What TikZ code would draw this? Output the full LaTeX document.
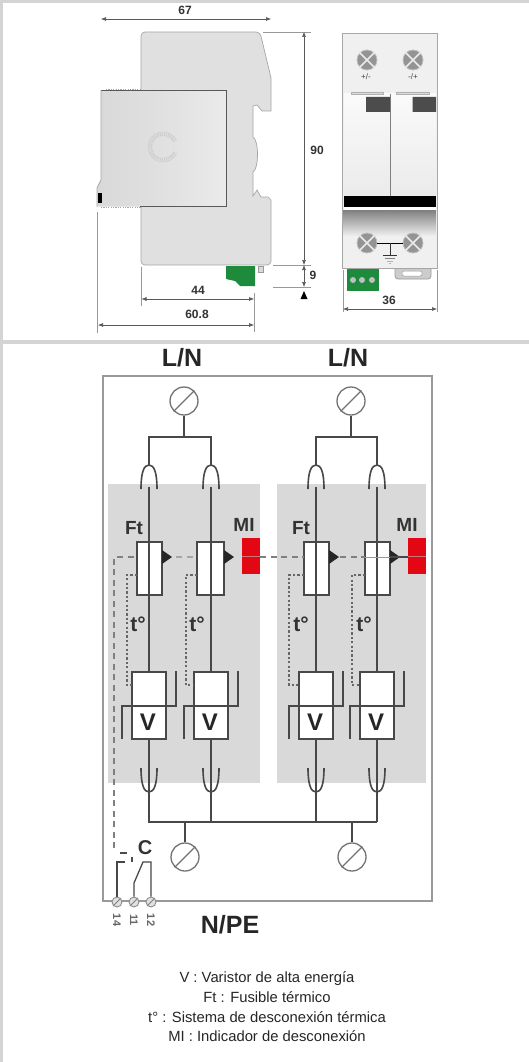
\documentclass[tikz,border=0pt]{standalone}
\usepackage{fontspec}
\setmainfont{Liberation Sans}
\usetikzlibrary{arrows.meta}
\definecolor{framegray}{HTML}{D4D4D4}
\definecolor{panelgray}{HTML}{D9D9D9}
\definecolor{bodygray}{HTML}{E0E0E0}
\definecolor{wiregray}{HTML}{484848}
\definecolor{migred}{HTML}{E30613}
\definecolor{termgreen}{HTML}{1E8A3C}
\tikzset{
  dimline/.style={draw=black!65,line width=.6pt,{Latex[length=5pt,width=4pt]}-{Latex[length=5pt,width=4pt]}},
  extline/.style={draw=black!40,line width=.6pt},
  dimtext/.style={font=\bfseries\fontsize{12}{14}\selectfont,text=black!80,inner sep=0pt},
  wire/.style={draw=wiregray,line width=1.6pt},
  dashwire/.style={draw=black!50,line width=2.4pt,dash pattern=on 6pt off 4.5pt},
  dotwire/.style={draw=black!60,line width=2.2pt,dash pattern=on 2.2pt off 2.2pt},
  terminal/.style={circle,draw=black!55,fill=white,line width=1.3pt,minimum size=28pt,inner sep=0pt},
  smallterm/.style={circle,draw=black!45,fill=black!12,line width=.9pt,minimum size=10pt,inner sep=0pt},
  screw/.style={circle,draw=black!25,fill=black!42,line width=.8pt,minimum size=20pt,inner sep=0pt},
  boxwhite/.style={draw=wiregray,fill=white,line width=1.4pt},
  bigtext/.style={font=\bfseries\fontsize{25}{27}\selectfont,text=black!85,inner sep=0pt},
  midtext/.style={font=\bfseries\fontsize{19}{21}\selectfont,text=black!80,inner sep=0pt},
  legend/.style={font=\fontsize{14.8}{19.7}\selectfont,text=black!85,align=center,inner sep=0pt},
}
\begin{document}
\begin{tikzpicture}[x=1pt,y=-1pt]
\useasboundingbox (0,0) rectangle (529,1062);
\fill[white] (0,0) rectangle (529,1062);
% frame
\fill[framegray] (0,0) rectangle (529,3);
\fill[framegray] (0,0) rectangle (3,1062);
\fill[framegray] (0,340) rectangle (529,344);
% side view
\draw[fill=bodygray,draw=black!35,line width=.7pt,rounded corners=4pt]
  (141,32) -- (260,32) [sharp corners] -- (271,78) -- (271,111) -- (262,111) -- (257,105) -- (253,106) -- (253,137)
  .. controls (259,140) and (259,169) .. (253,172) -- (253,196) -- (257,190) -- (261,197) -- (268,197) -- (271,200)
  [rounded corners=4pt] -- (271,265) -- (141,265) -- cycle;
\shade[left color=black!15,right color=black!8,middle color=black!12] (101,90.5) -- (226.5,90.5) -- (226.5,206.5) -- (97,206.5) -- (97,188) -- (101,180) -- cycle;
\draw[black!65,line width=.9pt] (101,90.5) -- (226.5,90.5) -- (226.5,206.5) -- (140,206.5);
\draw[black!35,line width=.7pt] (101,90.5) -- (101,180) -- (97,188) -- (97,206.5);
\draw[black!35,line width=1pt,dash pattern=on 1.2pt off 1.2pt] (106,89.5) -- (141,89.5) (101,207.5) -- (141,207.5);
\fill[black] (97.5,193) rectangle (101.5,203);
\draw[black!20,line width=3pt,dash pattern=on 1pt off 1pt] (163,147) ++(25:12.5) arc (25:335:12.5);
\draw[black!20,line width=.6pt] (163,147) ++(25:15) arc (25:335:15);
% green plug
\fill[termgreen] (226,266) -- (255,266) -- (255,286) -- (240,286) -- (235,281) -- (226,279) -- cycle;
\draw[black!40,fill=black!15,line width=.5pt] (258.5,266) rectangle (263,272);
% dimensions of side view
\node[dimtext] (widthtxt) at (185,10) {67};
\coordinate (wa) at (101,19); \coordinate (wb) at (271,19);
\draw[dimline] (wa) -- (wb);
\draw[extline] (263,32) -- (311,32) (273,265) -- (311,265) (273,287) -- (311,287);
\coordinate (ha) at (304,32); \coordinate (hb) at (304,265); \coordinate (hc) at (304,287);
\draw[dimline] (ha) -- (hb);
\draw[dimline] (hb) -- (hc);
\fill[black] (304,291) -- (307.5,299) -- (300.5,299) -- cycle;
\node[dimtext] (htxt) at (317,150) {90};
\node[dimtext] (ntxt) at (313,275) {9};
\draw[extline] (141.5,267) -- (141.5,306) (254,293) -- (254,332) (97.5,212) -- (97.5,333);
\coordinate (da) at (141.5,299); \coordinate (db) at (254,299);
\coordinate (ea) at (98,325); \coordinate (eb) at (254,325);
\draw[dimline] (da) -- (db);
\draw[dimline] (ea) -- (eb);
\node[dimtext] (dtxt) at (198,290) {44};
\node[dimtext] (etxt) at (197,314) {60.8};
% front view
\draw[draw=black!35,fill=black!6,line width=.7pt] (342,33) rectangle (437,268);
\shade[top color=black!2,bottom color=black!8] (344,94) rectangle (389.5,196);
\shade[top color=black!2,bottom color=black!8] (391,94) rectangle (436,196);
\draw[black!50,line width=.8pt] (390,94) -- (390,210);
\shade[top color=black!50,bottom color=black!6] (343,210) rectangle (436,236);
\draw[black!30,line width=.7pt,fill=black!15] (351,92) rectangle (383,94) (396,92) rectangle (429,94);
\fill[black!70] (366,97) rectangle (390,112) (412.5,97) rectangle (436,112);
\fill[black] (344,196) rectangle (436,207);
\fill[white] (344,207) rectangle (436,210);
\draw[black!50,line width=.8pt] (351,211) -- (384,211) (396,211) -- (429,211);
\foreach \scx/\scy/\scn in {367/60/sa,413/60/sb,367/243/sc,413/243/sd}{
  \node[screw] (\scn) at (\scx,\scy) {};
  \draw[black!8,line width=1.6pt] (\scn.45) -- (\scn.225) (\scn.135) -- (\scn.-45);
}
\draw[black,line width=1pt] (sc) -- (sd);
\coordinate (ga) at (390,243); \coordinate (gb) at (390,255);
\draw[black!80,line width=.8pt] (ga) -- (gb) (383,255) -- (397,255);
\draw[black!50,line width=.7pt] (385,258) -- (395,258);
\draw[black!30,line width=.7pt] (387,261) -- (393,261) (389,263) -- (391,263);
\node[font=\fontsize{8}{9}\selectfont,inner sep=0pt,text=black!75] (pa) at (366,77) {+/-};
\node[font=\fontsize{8}{9}\selectfont,inner sep=0pt,text=black!75] (pb) at (413,77) {-/+};
\fill[termgreen] (347,268.5) rectangle (379,291);
\foreach \gx in {353,362,372}
  \fill[black!25] (\gx,280) circle (3pt);
\draw[black!40,fill=black!20,line width=.7pt,rounded corners=3pt] (395,269) -- (395,279) -- (431,279) -- (431,269);
\draw[black!40,fill=white,rounded corners=2pt,line width=.5pt] (402,271) rectangle (422,276);
\draw[extline] (343,270) -- (343,312) (437,270) -- (437,312);
\coordinate (fa) at (343,309); \coordinate (fb) at (437,309);
\draw[dimline] (fa) -- (fb);
\node[dimtext] (ftxt) at (389,300) {36};
% schematic
\fill[panelgray] (108,484) rectangle (260,783);
\fill[panelgray] (277,484) rectangle (426,783);
\draw[dashwire] (114,848) -- (114,557) -- (137,557);
\draw[black!40,line width=1.4pt] (103,376) rectangle (432,901);
\node[bigtext] (lna) at (182,358) {L/N};
\node[bigtext] (lnb) at (348,358) {L/N};
\node[bigtext] (npe) at (230,925) {N/PE};
\foreach \tx/\tn in {184/a,351/b}{
  \node[terminal] (in\tn) at (\tx,401) {};
  \draw[black!55,line width=1.3pt] (in\tn.225) -- (in\tn.45);
  \node[terminal] (out\tn) at (\tx+1,857) {};
  \draw[black!55,line width=1.3pt] (out\tn.225) -- (out\tn.45);
  \coordinate (ti\tn) at (\tx,437);
  \coordinate (bi\tn) at (\tx+1,822);
  \draw[wire] (in\tn) -- (ti\tn);
  \draw[wire] (bi\tn) -- (out\tn);
}
\draw[wire] (149,465) |- (211,437) -- (211,465);
\draw[wire] (316,465) |- (377,437) -- (377,465);
\draw[wire] (149,792) |- (377,822);
\draw[wire] (211,792) -- (211,822) (316,792) -- (316,822) (377,792) -- (377,822);
% one block per pole
\foreach \px/\fl/\fr/\dotx/\tdeg in {149/137/162/127/138,211/197/224/186/197,316/304/329/289/301,377/365/390/352/364}{
  \draw[wire] (\px-8,489) .. controls (\px-8,472) and (\px-5,465) .. (\px,465) .. controls (\px+5,465) and (\px+8,472) .. (\px+8,489);
  \draw[boxwhite] (\fl,542) rectangle (\fr,595);
  \draw[wire] (\px,487) -- (\px,672);
  \draw[boxwhite] (\px-17,672) rectangle (\px+17,739);
  \node[font=\bfseries\fontsize{24}{26}\selectfont,inner sep=0pt,text=black!85] at (\px-1,722) {V};
  \draw[wire] (\px-27,739) -- (\px-27,706) -- (\px+27,706) -- (\px+27,671);
  \draw[wire] (\px,739) -- (\px,792);
  \draw[wire] (\px-8,768) .. controls (\px-8,785) and (\px-5,792) .. (\px,792) .. controls (\px+5,792) and (\px+8,785) .. (\px+8,768);
  \fill[black!85] (\fr,550) -- (\fr+10,557) -- (\fr,564) -- cycle;
  \draw[dotwire] (\fl,575) -- (\dotx,575) -- (\dotx,685) -- (\px-17,685);
  \node[midtext,font=\bfseries\fontsize{21}{22}\selectfont] at (\tdeg,624) {t°};
}
\foreach \lx/\ln in {134/a,301/b}
  \node[midtext] (ft\ln) at (\lx,528) {Ft};
\foreach \lx/\ln in {244/a,407/b}
  \node[midtext] (mi\ln) at (\lx,525) {MI};
\foreach \rx/\rn in {242/a,408/b}{
  \fill[migred] (\rx,538) rectangle (\rx+18,574);
  \draw[black!25,line width=.7pt,opacity=.6] (\rx,556) -- (\rx+18,556);
}
\draw[wire] (390,557) -- (408,557);
\draw[black!40,line width=.7pt] (365,557) -- (390,557);
\draw[dashwire,line width=1.7pt,draw=black!35] (176,557) -- (197,557);
\draw[dashwire,line width=1.7pt] (260,557) -- (304,557);
\draw[dashwire,line width=1.7pt] (340,557) -- (365,557);
% aux contact
\node[smallterm] (cn) at (117,902) {};
\node[smallterm] (ca) at (134,902) {};
\node[smallterm] (cb) at (151,902) {};
\foreach \cname in {cn,ca,cb}
  \draw[black!50,line width=.8pt] (\cname.225) -- (\cname.45);
\draw[wire,line width=1.3pt] (cn) -- (117,862) -- (125,862);
\draw[wire,line width=1.3pt] (ca) -- (134,883) -- (143,862) -- (151,862) -- (cb);
\draw[black!70,line width=1.2pt] (120,853) -- (127,853) (132,857) -- (132,862);
\node[midtext,font=\bfseries\fontsize{20}{21}\selectfont] (cc) at (145,848) {C};
\foreach \nx/\nt in {117/14,134/11,151/12}
  \node[font=\bfseries\fontsize{11}{12}\selectfont,rotate=-90,inner sep=0pt,text=black!60] at (\nx,920) {\nt};
% legend
\node[legend] (leg) at (267,1007) {V : Varistor de alta energía\\Ft : Fusible térmico\\t° : Sistema de desconexión térmica\\MI : Indicador de desconexión};
\end{tikzpicture}
\end{document}
